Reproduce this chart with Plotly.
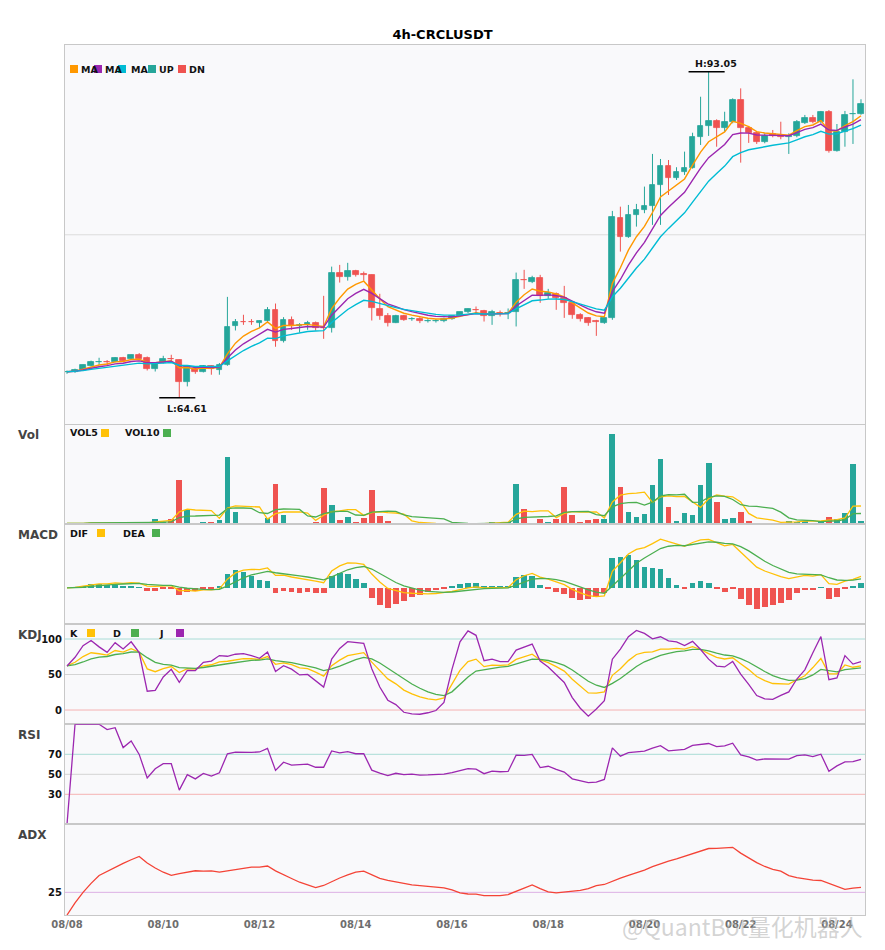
import numpy as np
import plotly.graph_objects as go
from plotly.subplots import make_subplots

# ---------------- data ----------------
title_text = "4h-CRCLUSDT"
tick_labels = ["08/08", "08/10", "08/12", "08/14", "08/16", "08/18", "08/20", "08/22", "08/24"]
bars_per_tick = 12

open_ = [66.82, 66.88, 67.05, 67.40, 67.73, 67.77, 67.75, 68.10, 67.95, 68.30,
         68.04, 67.16, 67.64, 68.02, 67.92, 66.01, 67.11, 66.88, 67.40, 66.99,
         67.49, 70.83, 71.26, 71.26, 71.17, 71.32, 72.28, 69.52, 71.41, 70.83,
         70.97, 71.17, 70.73, 70.69, 75.48, 75.18, 75.65, 75.36, 75.33, 72.34,
         71.76, 71.17, 71.70, 71.45, 71.50, 71.30, 71.30, 71.32, 71.47, 71.70,
         72.05, 72.30, 72.22, 71.70, 72.01, 71.97, 72.05, 74.92, 74.75, 75.10,
         73.50, 73.68, 73.30, 72.92, 71.85, 71.61, 71.28, 71.17, 71.61, 80.33,
         78.67, 80.56, 81.00, 81.37, 83.18, 84.83, 83.76, 84.28, 84.68, 87.33,
         88.32, 88.75, 88.17, 88.69, 90.58, 88.17, 87.68, 86.95, 87.62, 87.53,
         87.33, 87.45, 88.61, 88.99, 88.69, 89.56, 86.17, 87.82, 89.33, 89.36]
high = [66.99, 67.15, 67.50, 67.85, 68.10, 67.90, 68.15, 68.18, 68.36, 68.51,
        68.21, 67.70, 68.27, 68.36, 67.95, 67.32, 67.20, 67.45, 67.45, 67.64,
        73.41, 71.48, 71.85, 71.47, 71.35, 72.52, 72.83, 71.64, 71.70, 71.12,
        71.32, 71.26, 73.50, 76.05, 76.20, 76.38, 75.77, 75.62, 75.36, 73.68,
        72.00, 71.85, 71.85, 71.64, 71.64, 71.47, 71.47, 71.60, 71.76, 72.10,
        72.40, 72.57, 72.28, 72.28, 72.22, 72.40, 75.53, 75.77, 75.25, 75.33,
        74.11, 73.80, 74.37, 72.95, 71.99, 71.65, 71.41, 71.70, 80.91, 81.28,
        81.43, 81.52, 83.03, 85.88, 85.44, 85.35, 84.72, 86.08, 87.73, 90.87,
        93.05, 88.90, 89.56, 90.73, 91.60, 88.32, 87.82, 87.68, 87.97, 88.69,
        87.68, 88.84, 89.28, 89.28, 89.63, 89.71, 88.49, 89.63, 92.39, 90.65]
low = [66.70, 66.78, 67.00, 67.35, 67.48, 67.38, 67.70, 67.78, 67.90, 67.95,
       66.99, 66.90, 67.60, 67.64, 64.61, 65.60, 66.70, 66.82, 66.62, 66.62,
       67.40, 70.48, 70.97, 70.97, 70.69, 71.12, 69.06, 69.43, 70.54, 70.30,
       70.54, 70.48, 69.75, 70.30, 74.66, 74.83, 75.18, 74.83, 71.35, 71.41,
       70.83, 71.12, 71.32, 71.32, 71.12, 71.17, 71.17, 71.20, 71.41, 71.65,
       72.00, 71.99, 71.26, 70.97, 71.70, 71.47, 70.83, 74.11, 74.61, 72.89,
       73.24, 72.28, 71.58, 71.50, 71.26, 70.89, 70.01, 71.06, 71.41, 77.36,
       78.56, 79.54, 80.71, 79.69, 79.69, 82.30, 83.61, 84.05, 84.60, 86.66,
       87.45, 86.51, 87.82, 88.55, 85.12, 86.84, 86.75, 86.81, 87.33, 87.16,
       85.88, 87.33, 88.49, 88.55, 88.55, 85.99, 86.08, 86.51, 86.75, 89.30]
close = [66.88, 67.05, 67.43, 67.75, 67.77, 67.73, 68.10, 67.84, 68.30, 68.01,
         67.16, 67.64, 67.98, 67.98, 66.01, 67.29, 66.82, 67.40, 67.11, 67.46,
         70.80, 71.24, 71.22, 71.22, 71.32, 72.28, 69.52, 71.41, 70.91, 70.97,
         71.17, 70.69, 70.69, 75.48, 75.18, 75.65, 75.33, 75.33, 72.43, 71.76,
         71.17, 71.70, 71.41, 71.49, 71.32, 71.34, 71.35, 71.47, 71.70, 72.05,
         72.31, 72.26, 71.70, 72.05, 71.97, 72.01, 74.90, 74.88, 75.10, 73.50,
         73.74, 73.30, 72.92, 71.85, 71.47, 71.17, 71.24, 71.56, 80.41, 78.67,
         80.56, 81.00, 81.37, 83.18, 84.83, 83.76, 84.28, 84.68, 87.33, 88.32,
         88.75, 88.17, 88.69, 90.58, 88.17, 87.68, 86.95, 87.47, 87.45, 87.39,
         87.45, 88.69, 88.99, 88.69, 89.56, 86.17, 87.82, 89.28, 89.38, 90.24]
volume = [1000, 700, 1300, 2300, 1300, 1000, 1300, 1000, 1000, 1000,
          2300, 6300, 3300, 6300, 44300, 15300, 2300, 3300, 3300, 5300,
          67300, 13300, 2300, 2300, 1300, 7300, 40300, 10300, 2300, 2300,
          1300, 3300, 36300, 20300, 5300, 8300, 3300, 7300, 34300, 9300,
          4300, 1300, 1300, 1300, 700, 500, 500, 500, 500, 500,
          700, 1000, 700, 3300, 2300, 3300, 40300, 16300, 1300, 6300,
          3300, 6300, 37300, 10300, 3300, 5300, 6300, 6300, 90300, 37300,
          13300, 8300, 11300, 39300, 65300, 18300, 4300, 12300, 10300, 39300,
          61300, 23300, 6300, 7300, 13300, 4300, 1300, 700, 1300, 2300,
          4300, 3300, 4300, 1300, 3300, 8300, 6300, 12300, 60300, 4300]

ma_periods = [5, 8, 13]
macd_params = (5, 13, 5)

# ---------------- indicators ----------------
o = np.array(open_); h = np.array(high); l = np.array(low); c = np.array(close)
v = np.array(volume, dtype=float)
n = len(c)
idx = np.arange(n)


def ema(x, span=None, alpha=None):
    a = alpha if alpha is not None else 2.0 / (span + 1.0)
    out = np.empty(len(x))
    out[0] = x[0]
    for i in range(1, len(x)):
        out[i] = a * x[i] + (1 - a) * out[i - 1]
    return out


def sma(x, w):
    return np.array([x[max(0, i - w + 1):i + 1].mean() for i in range(len(x))])


ma_lines = [ema(c, p) for p in ma_periods]
vol5 = sma(v, 5)
vol10 = sma(v, 10)

dif = ema(c, macd_params[0]) - ema(c, macd_params[1])
dea = ema(dif, macd_params[2])
hist = 2 * (dif - dea)

llv = np.array([l[max(0, i - 8):i + 1].min() for i in range(n)])
hhv = np.array([h[max(0, i - 8):i + 1].max() for i in range(n)])
rsv = np.where(hhv > llv, (c - llv) / np.where(hhv > llv, hhv - llv, 1) * 100, 50)
K = np.empty(n); D = np.empty(n)
K[0] = rsv[0]; D[0] = K[0]
for i in range(1, n):
    K[i] = (2 * K[i - 1] + rsv[i]) / 3
    D[i] = (2 * D[i - 1] + K[i]) / 3
J = 3 * K - 2 * D

diff = np.diff(c, prepend=c[0])
gain = np.maximum(diff, 0); loss = np.maximum(-diff, 0)
ag = ema(gain, alpha=1 / 14); al = ema(loss, alpha=1 / 14)
rsi = np.where(ag + al > 0, 100 * ag / np.where(ag + al > 0, ag + al, 1), 0)

prev_c = np.concatenate([[c[0]], c[:-1]])
tr = np.maximum.reduce([h - l, np.abs(h - prev_c), np.abs(l - prev_c)])
tr[0] = h[0] - l[0]
up = np.concatenate([[0], h[1:] - h[:-1]])
dn = np.concatenate([[0], l[:-1] - l[1:]])
pdm = np.where((up > dn) & (up > 0), up, 0.0)
mdm = np.where((dn > up) & (dn > 0), dn, 0.0)
a_adx = 2 / 15
atr = ema(tr, alpha=a_adx)
pdi = 100 * ema(pdm, alpha=a_adx) / atr
mdi = 100 * ema(mdm, alpha=a_adx) / atr
dsum = pdi + mdi
dx = np.where(dsum > 0, 100 * np.abs(pdi - mdi) / np.where(dsum > 0, dsum, 1), 0)
adx = ema(dx, alpha=a_adx)

# ---------------- styling ----------------
UP = "#26a69a"; DN = "#ef5350"
MA_COLORS = ["#ff9800", "#9c27b0", "#00bcd4"]
YEL = "#ffc107"; GRN = "#4caf50"; PUR = "#9c27b0"; ADXC = "#f44336"
BG = "#f9f9fb"; SPINE = "#c8c8c8"
FONT = "DejaVu Sans"

is_up = c >= o
cols = np.where(is_up, UP, DN)

# page body has an 8px margin: the figure is placed at (8, 8)
OFF = 8
PAGE_W, PAGE_H = 885, 950
W, H = PAGE_W - OFF, PAGE_H - OFF
PLOT_L, PLOT_R, PLOT_T, PLOT_B = 65, 865, 45, 915       # plot area in page pixels
L_M, R_M = PLOT_L - OFF, (PAGE_W - PLOT_R)
T_M, B_M = PLOT_T - OFF, (PAGE_H - PLOT_B)
PW = PLOT_R - PLOT_L
PH = PLOT_B - PLOT_T


def xp(px):
    return (px - PLOT_L) / PW


def yp(py):
    return (PLOT_B - py) / PH


fig = make_subplots(rows=6, cols=1, shared_xaxes=True, vertical_spacing=0,
                    row_heights=[379.5, 99.8, 100, 100, 100, 90.7])

# --- candles ---
lo, hi = float(l.min()), float(h.max())
span = hi - lo
body_bot = np.minimum(o, c)
body_h = np.maximum(np.abs(c - o), span * 0.0015)
for up_flag, col in [(True, UP), (False, DN)]:
    wx, wy = [], []
    for i in range(n):
        if bool(is_up[i]) == up_flag:
            wx += [i, i, None]
            wy += [l[i], h[i], None]
    fig.add_trace(go.Scatter(x=wx, y=wy, mode="lines", line=dict(color=col, width=1),
                             hoverinfo="skip", showlegend=False), row=1, col=1)
fig.add_trace(go.Bar(x=idx, y=body_h, base=body_bot, width=0.72,
                     marker=dict(color=list(cols), line=dict(color=list(cols), width=0.8)),
                     showlegend=False), row=1, col=1)
for line_vals, col in zip(ma_lines, MA_COLORS):
    fig.add_trace(go.Scatter(x=idx, y=line_vals, mode="lines", line=dict(color=col, width=1.4),
                             showlegend=False), row=1, col=1)

# --- volume ---
fig.add_trace(go.Bar(x=idx, y=v, width=0.72, marker=dict(color=list(cols), line=dict(width=0)),
                     showlegend=False), row=2, col=1)
fig.add_trace(go.Scatter(x=idx, y=vol5, mode="lines", line=dict(color=YEL, width=1.3), showlegend=False), row=2, col=1)
fig.add_trace(go.Scatter(x=idx, y=vol10, mode="lines", line=dict(color=GRN, width=1.3), showlegend=False), row=2, col=1)

# --- MACD ---
hcols = np.where(hist >= 0, UP, DN)
fig.add_trace(go.Bar(x=idx, y=hist, width=0.72, marker=dict(color=list(hcols), line=dict(width=0)),
                     showlegend=False), row=3, col=1)
fig.add_trace(go.Scatter(x=idx, y=dif, mode="lines", line=dict(color=YEL, width=1.3), showlegend=False), row=3, col=1)
fig.add_trace(go.Scatter(x=idx, y=dea, mode="lines", line=dict(color=GRN, width=1.3), showlegend=False), row=3, col=1)

# --- KDJ ---
fig.add_trace(go.Scatter(x=idx, y=K, mode="lines", line=dict(color=YEL, width=1.3), showlegend=False), row=4, col=1)
fig.add_trace(go.Scatter(x=idx, y=D, mode="lines", line=dict(color=GRN, width=1.3), showlegend=False), row=4, col=1)
fig.add_trace(go.Scatter(x=idx, y=J, mode="lines", line=dict(color=PUR, width=1.3), showlegend=False), row=4, col=1)

# --- RSI ---
fig.add_trace(go.Scatter(x=idx, y=rsi, mode="lines", line=dict(color=PUR, width=1.3), showlegend=False), row=5, col=1)

# --- ADX ---
fig.add_trace(go.Scatter(x=idx, y=adx, mode="lines", line=dict(color=ADXC, width=1.3), showlegend=False), row=6, col=1)

# ---------------- axes ----------------
xr = [-0.25, n - 0.5]
for r in range(1, 7):
    fig.update_xaxes(range=xr, showgrid=False, zeroline=False, showline=True, mirror=True,
                     linecolor=SPINE, linewidth=1, ticks="", row=r, col=1)
fig.update_xaxes(showticklabels=False)
fig.update_xaxes(showticklabels=True, tickmode="array",
                 tickvals=[i * bars_per_tick for i in range(len(tick_labels))],
                 ticktext=tick_labels,
                 tickfont=dict(family=FONT, size=10, color="#6e6e6e", weight="bold"),
                 row=6, col=1)

ytick_font = dict(family=FONT, size=10, color="#111111", weight="bold")
for r in range(1, 7):
    fig.update_yaxes(showgrid=False, zeroline=False, showline=True, mirror=True,
                     linecolor=SPINE, linewidth=1, ticks="", showticklabels=False,
                     fixedrange=True, row=r, col=1)

pad = 0.082 * span
fig.update_yaxes(range=[lo - pad, hi + pad], row=1, col=1)
fig.update_yaxes(range=[0, float(v.max()) * 1.105], row=2, col=1)
m_lo = float(min(dif.min(), dea.min(), hist.min()))
m_hi = float(max(dif.max(), dea.max(), hist.max()))
m_pad = 0.21 * (m_hi - m_lo)
fig.update_yaxes(range=[m_lo - m_pad, m_hi + m_pad], row=3, col=1)
fig.update_yaxes(range=[-20.1, 120.7], showticklabels=True, tickmode="array",
                 tickvals=[0, 50, 100], ticktext=["0", "50", "100"], tickfont=ytick_font, row=4, col=1)
fig.update_yaxes(range=[0, 100], showticklabels=True, tickmode="array",
                 tickvals=[30, 50, 70], ticktext=["30", "50", "70"], tickfont=ytick_font, row=5, col=1)
fig.update_yaxes(range=[0, 100], showticklabels=True, tickmode="array",
                 tickvals=[25], ticktext=["25"], tickfont=ytick_font, row=6, col=1)

# ---------------- reference lines ----------------
shapes = []


def hline(yval, yref, color):
    shapes.append(dict(type="line", xref="paper", x0=0, x1=1, yref=yref, y0=yval, y1=yval,
                       line=dict(color=color, width=1), layer="below"))


hline((hi + lo) / 2, "y", "#dcdcdc")
hline(100, "y4", "#a9dcd6"); hline(50, "y4", "#d4d4d4"); hline(0, "y4", "#f5b3b3")
hline(70, "y5", "#a9dcd6"); hline(50, "y5", "#d4d4d4"); hline(30, "y5", "#f5b3b3")
hline(25, "y6", "#dcb0e4")

# H / L markers
i_hi = int(np.argmax(h)); i_lo = int(np.argmin(l))
shapes.append(dict(type="line", xref="x", yref="y", x0=i_hi - 2.5, x1=i_hi + 2.0, y0=hi, y1=hi,
                   line=dict(color="black", width=1.5)))
shapes.append(dict(type="line", xref="x", yref="y", x0=i_lo - 2.5, x1=i_lo + 2.0, y0=lo, y1=lo,
                   line=dict(color="black", width=1.5)))

annotations = []
small_bold = dict(family=FONT, size=9.5, color="#111111", weight="bold")
annotations.append(dict(x=i_hi + 0.9, y=hi, xref="x", yref="y", text=f"H:{hi:.2f}", showarrow=False,
                        yanchor="bottom", yshift=1, font=small_bold))
annotations.append(dict(x=i_lo + 0.9, y=lo, xref="x", yref="y", text=f"L:{lo:.2f}", showarrow=False,
                        yanchor="top", yshift=-3, font=small_bold))


def legend_sq(x0, ycen, color):
    shapes.append(dict(type="rect", xref="paper", yref="paper", x0=xp(x0), x1=xp(x0 + 8),
                       y0=yp(ycen + 4), y1=yp(ycen - 4), fillcolor=color, line=dict(width=0)))


def legend_txt(x, ycen, text):
    annotations.append(dict(x=xp(x), y=yp(ycen), xref="paper", yref="paper", text=text,
                            showarrow=False, xanchor="left", yanchor="middle", borderpad=0,
                            font=small_bold))


# main legend
for tx, txt in [(80, "MA"), (104, "MA"), (130, "MA"), (158, "UP"), (188, "DN")]:
    legend_txt(tx, 69, txt)
for sx, col in [(70, MA_COLORS[0]), (94, MA_COLORS[1]), (118, MA_COLORS[2]), (148, UP), (178, DN)]:
    legend_sq(sx, 69, col)
# vol legend
legend_txt(69, 433, "VOL5"); legend_sq(101, 433, YEL)
legend_txt(124, 433, "VOL10"); legend_sq(163, 433, GRN)
# macd legend
legend_txt(69, 533, "DIF"); legend_sq(97, 533, YEL)
legend_txt(122, 533, "DEA"); legend_sq(152, 533, GRN)
# kdj legend
legend_txt(69, 633, "K"); legend_sq(87, 633, YEL)
legend_txt(112, 633, "D"); legend_sq(131, 633, GRN)
legend_txt(158, 633, "J"); legend_sq(176, 633, PUR)

# panel labels
for txt, ycen in [("Vol", 435), ("MACD", 534.5), ("KDJ", 635), ("RSI", 734.5), ("ADX", 835)]:
    annotations.append(dict(x=xp(16), y=yp(ycen), xref="paper", yref="paper", text=txt,
                            showarrow=False, xanchor="left", yanchor="middle",
                            font=dict(family=FONT, size=12, color="#444444", weight="bold")))

# watermark
annotations.append(dict(x=xp(620), y=yp(926), xref="paper", yref="paper",
                        text="@QuantBot量化机器人", showarrow=False, xanchor="left", yanchor="middle",
                        font=dict(family="Noto Sans CJK SC", size=23, color="rgba(175,175,175,0.55)")))

fig.update_layout(
    width=W, height=H,
    margin=dict(l=L_M, r=R_M, t=T_M, b=B_M),
    paper_bgcolor="white", plot_bgcolor=BG,
    barmode="overlay", bargap=0,
    showlegend=False,
    font=dict(family=FONT),
    title=dict(text=title_text, x=(442.5 - OFF) / W, xanchor="center", xref="container",
               y=1 - (34 - OFF) / H, yanchor="middle", yref="container",
               font=dict(family=FONT, size=13, color="black", weight="bold")),
    shapes=shapes, annotations=annotations,
)

fig.write_html("out.html")
